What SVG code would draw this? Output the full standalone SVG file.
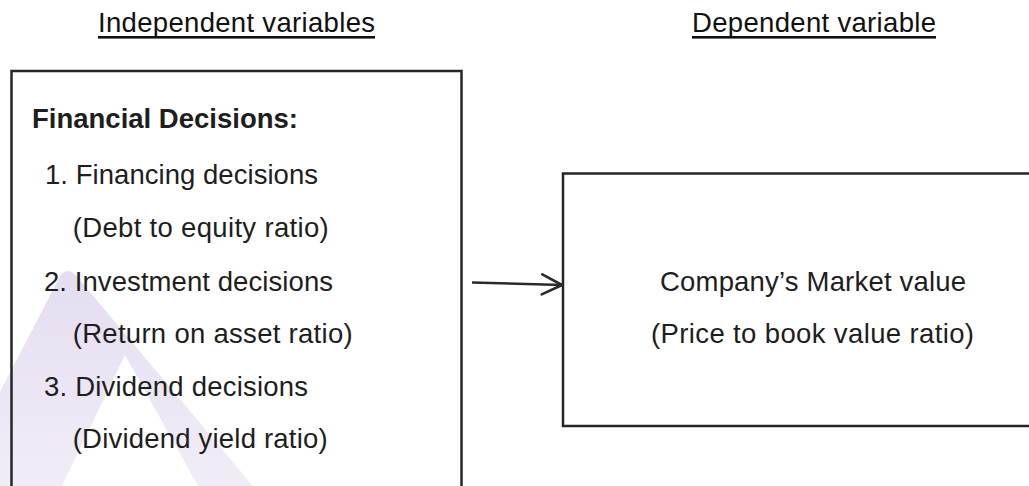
<svg xmlns="http://www.w3.org/2000/svg" width="1029" height="486" viewBox="0 0 1029 486">
  <defs>
    <linearGradient id="wm" x1="0" y1="0" x2="0" y2="1">
      <stop offset="0" stop-color="#e4ddf1"/>
      <stop offset="1" stop-color="#f1edf7"/>
    </linearGradient>
    <marker id="open-arrow" viewBox="0 0 24 24" refX="22" refY="12" markerWidth="24" markerHeight="24" markerUnits="userSpaceOnUse" orient="auto">
      <path d="M2,2 L22,12 L2,22" fill="none" stroke="#2a2a2a" stroke-width="2.6" stroke-linecap="round" stroke-linejoin="round"/>
    </marker>
    <style>
      .t { font-family: "Liberation Sans", Arial, sans-serif; font-size: 27.5px; fill: #1e1e1e; }
      .b { font-weight: bold; }
      .hd { fill: #111; }
      .box { fill: none; stroke: #262626; stroke-width: 2.5; }
      .ul { fill: #111; }
      .conn { stroke: #2a2a2a; stroke-width: 2.5; fill: none; }
    </style>
  </defs>
  <rect width="1029" height="486" fill="#ffffff"/>
  <path d="M0,392 L58,280 Q66,263 78,278 L253,486 L198,486 L125,355 L62,486 L0,486 Z" fill="url(#wm)"/>

  <g id="heading-independent">
    <text class="t hd" x="98" y="31.5" textLength="277">Independent variables</text>
    <rect class="ul" x="98" y="36" width="277" height="2.6"/>
  </g>
  <g id="heading-dependent">
    <text class="t hd" x="692" y="32" textLength="244">Dependent variable</text>
    <rect class="ul" x="692" y="36" width="244" height="2.6"/>
  </g>

  <g id="node-financial-decisions">
    <rect class="box" x="11.5" y="71" width="450" height="440"/>
    <text class="t b" x="32" y="128" textLength="266">Financial Decisions:</text>
    <text class="t" x="45" y="184" textLength="273">1. Financing decisions</text>
    <text class="t" x="72.7" y="237" textLength="256">(Debt to equity ratio)</text>
    <text class="t" x="44" y="290.5" textLength="289">2. Investment decisions</text>
    <text class="t" x="72.7" y="343" textLength="280">(Return on asset ratio)</text>
    <text class="t" x="44" y="396" textLength="264">3. Dividend decisions</text>
    <text class="t" x="72.7" y="448" textLength="255">(Dividend yield ratio)</text>
  </g>

  <g id="node-market-value">
    <rect class="box" x="563" y="173.5" width="500" height="252.5"/>
    <text class="t" x="660" y="291" textLength="306">Company’s Market value</text>
    <text class="t" x="651" y="343" textLength="323">(Price to book value ratio)</text>
  </g>

  <g id="connectors">
    <line class="conn" x1="472" y1="282.5" x2="562" y2="285" marker-end="url(#open-arrow)"/>
  </g>
</svg>
